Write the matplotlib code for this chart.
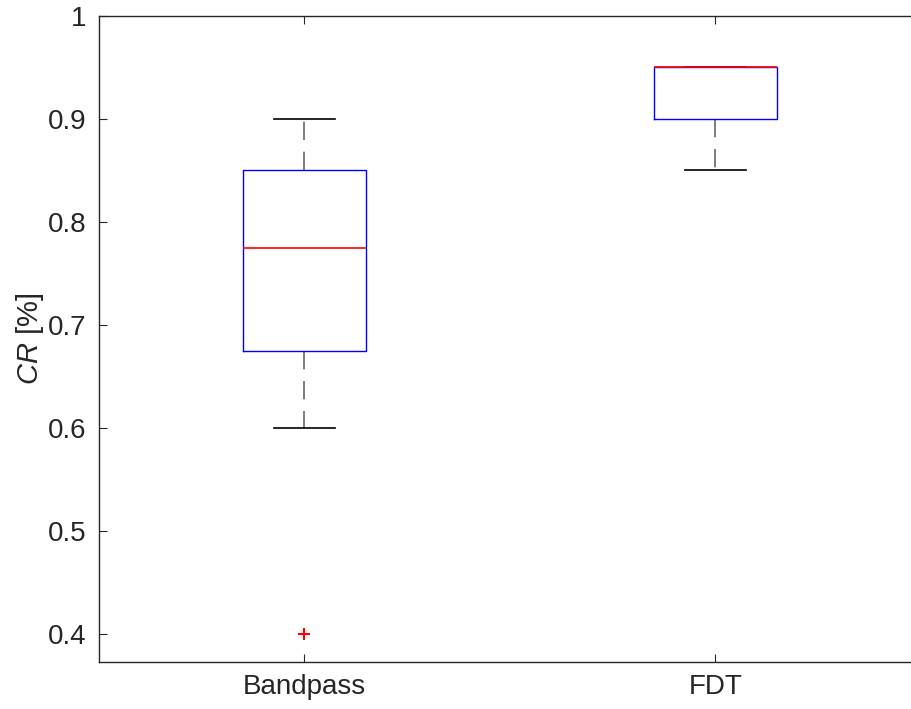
import numpy as np
import matplotlib
matplotlib.use('Agg')
import matplotlib.pyplot as plt

plt.rcParams['font.family'] = ['Liberation Sans', 'DejaVu Sans']
plt.rcParams['mathtext.fontset'] = 'custom'
plt.rcParams['mathtext.it'] = 'Liberation Sans:italic'
plt.rcParams['mathtext.rm'] = 'Liberation Sans'

# Box summary
labels = ['Bandpass', 'FDT']
medians = [0.775, 0.95]
q1 = [0.675, 0.90]
q3 = [0.85, 0.95]
whis_lo = [0.60, 0.85]
whis_hi = [0.90, 0.95]
outliers = [[0.40], []]

stats = []
for i in range(len(labels)):
    stats.append({'label': labels[i], 'med': medians[i], 'q1': q1[i],
                  'q3': q3[i], 'whislo': whis_lo[i], 'whishi': whis_hi[i],
                  'fliers': outliers[i]})

fig = plt.figure(figsize=(9.12, 7.09), dpi=100)
ax = fig.add_axes([99 / 912, 1 - 662 / 709, (921 - 99) / 912, (662 - 16) / 709])

ax.bxp(stats, positions=[1, 2], widths=0.3, showfliers=True,
       boxprops=dict(color='blue', linewidth=1, zorder=3),
       medianprops=dict(color='red', linewidth=1.2, zorder=4),
       whiskerprops=dict(color='#666666', linewidth=1.2,
                         linestyle=(0, (11, 7)), zorder=2),
       capprops=dict(color='black', linewidth=1.2, zorder=2),
       flierprops=dict(marker='+', markeredgecolor='red', markersize=9,
                       markeredgewidth=1.5, linestyle='none'),
       capwidths=0.15)

ax.set_xlim(0.5, 2.5)
ax.set_ylim(0.3728, 1.0)
ax.set_yticks([0.4, 0.5, 0.6, 0.7, 0.8, 0.9, 1.0])
ax.set_yticklabels(['0.4', '0.5', '0.6', '0.7', '0.8', '0.9', '1'])
ax.set_xticks([1, 2])
ax.set_xticklabels(labels)
ax.tick_params(direction='in', length=6, labelsize=20, colors='#262626',
               top=True, right=False, pad=9)
for s in ['left', 'bottom', 'top']:
    ax.spines[s].set_color('#262626')
    ax.spines[s].set_linewidth(1)
ax.spines['right'].set_visible(False)

ax.set_ylabel(r'$\it{CR}$ [%]', fontsize=21, color='#262626')
ax.yaxis.set_label_coords(-53 / 822, 0.5)

fig.savefig('out.png', dpi=100)
